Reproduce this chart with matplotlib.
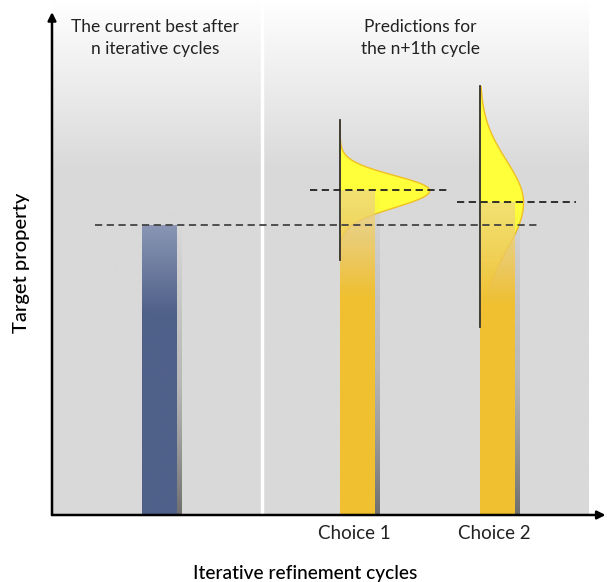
import numpy as np
import matplotlib
matplotlib.use('Agg')
import matplotlib.pyplot as plt
from matplotlib.colors import to_rgba

# ---- data ------------------------------------------------------------
categories = ['Current best', 'Choice 1', 'Choice 2']
values = [5.77, 6.46, 6.22]            # target property of each bar
tick_labels = ['', 'Choice 1', 'Choice 2']

pred_mean = [6.46, 6.22]               # predicted distributions (choice 1, 2)
pred_sd_up = [0.30, 0.84]
pred_sd_down = [0.34, 0.95]
pred_peak = [0.64, 0.31]
pred_lo = [5.07, 3.74]
pred_hi = [7.85, 8.53]

title_left = 'The current best after\nn iterative cycles'
title_right = 'Predictions for\nthe n+1th cycle'

# ---- layout ----------------------------------------------------------
W, H = 607, 582
xpos = [0.768, 2.18, 3.18]
bar_w = 0.25
ytop = 10.24
xright = 3.965
panel_right = 3.83

plt.rcParams['font.family'] = ['Lato', 'DejaVu Sans']

fig = plt.figure(figsize=(W / 100, H / 100), dpi=100, facecolor='white')
ax = fig.add_axes([52 / W, 67 / H, 555 / W, 515 / H])
ax.set_xlim(0, xright)
ax.set_ylim(0, ytop)
ax.axis('off')

# background panel: white at top fading into grey
n = 256
t = np.linspace(0, 1, n)[:, None]
grey = np.array(to_rgba('#d9d9d9'))
white = np.array(to_rgba('#ffffff'))
frac = np.clip(t / 0.33, 0, 1)
bg = white * (1 - frac[..., None]) + grey * frac[..., None]
ax.imshow(bg, extent=[0, panel_right, 0, ytop], aspect='auto', zorder=0,
          interpolation='bilinear', origin='upper')
ax.plot([1.5, 1.5], [0, ytop], color='white', lw=2.5, zorder=1)


def gradient(top, mid, bottom, split):
    k = np.linspace(0, 1, n)
    a = np.array(to_rgba(top[0], top[1]))
    b = np.array(to_rgba(mid[0], mid[1]))
    c = np.array(to_rgba(bottom[0], bottom[1]))
    out = np.zeros((n, 1, 4))
    for i, kk in enumerate(k):
        if kk < split:
            f = kk / split
            out[i, 0] = a * (1 - f) + b * f
        else:
            f = (kk - split) / (1 - split)
            out[i, 0] = b * (1 - f) + c * f
    return out


bars = ax.bar(xpos, values, width=bar_w, color='none', edgecolor='none', zorder=3)
for i, b in enumerate(bars):
    x0, w, h = b.get_x(), b.get_width(), b.get_height()
    if i == 0:
        g = gradient(('#8a96b4', 1), ('#4f6089', 1), ('#4f6089', 1), 0.31)
    else:
        g = gradient(('#ecd488', 0.7), ('#f0c032', 1), ('#f0c030', 1), 0.32)
    im = ax.imshow(g, extent=[x0, x0 + w, 0, h], aspect='auto', zorder=3,
                   interpolation='bilinear', origin='upper')
    im.set_clip_path(b)
    # thin shadow on the right side of each bar
    sh = gradient(('#808080', 0), ('#909090', 0.45), ('#6e6e6e', 1), 0.55)
    ax.imshow(sh, extent=[x0 + w, x0 + w + 0.032, 0, h], aspect='auto',
              zorder=2.5, interpolation='bilinear', origin='upper')

# predicted distributions for the two choices
for j in range(2):
    left = bars[j + 1].get_x()
    yy = np.linspace(pred_lo[j], pred_hi[j], 400)
    sd = np.where(yy > pred_mean[j], pred_sd_up[j], pred_sd_down[j])
    ww = pred_peak[j] * np.exp(-0.5 * ((yy - pred_mean[j]) / sd) ** 2)
    ax.fill_betweenx(yy, left, left + ww, facecolor='#ffff3a',
                     edgecolor='#f0c020', lw=1.0, zorder=2)
    ax.plot([left, left], [pred_lo[j], pred_hi[j]], color='#333333',
            lw=1.3, zorder=4)

# dashed reference lines
dash = dict(ls=(0, (4, 2.5)), lw=1.3, zorder=5)
ax.plot([xpos[0] - 0.46, xpos[2] + 0.30], [values[0]] * 2, color='#444444', **dash)
ax.plot([xpos[1] - 0.34, xpos[1] + 0.65], [values[1]] * 2, color='#222222', **dash)
ax.plot([xpos[2] - 0.29, xpos[2] + 0.56], [values[2]] * 2, color='#222222', **dash)

# axes with arrow heads
ax.annotate('', xy=(0, 10.0), xytext=(0, 0),
            arrowprops=dict(arrowstyle='-|>', color='black', lw=1.8,
                            mutation_scale=12, shrinkA=0, shrinkB=0),
            annotation_clip=False, zorder=6)
ax.annotate('', xy=(xright - 0.01, 0), xytext=(0, 0),
            arrowprops=dict(arrowstyle='-|>', color='black', lw=1.8,
                            mutation_scale=12, shrinkA=0, shrinkB=0),
            annotation_clip=False, zorder=6)

for x, lab in zip(xpos, tick_labels):
    ax.text(x - 0.02, -0.36, lab, ha='center', va='center', fontsize=13.5,
            color='#222222')

fig.text(305 / W, 1 - 574 / H, 'Iterative refinement cycles', ha='center',
         va='center', fontsize=13.8, color='black', fontweight='medium')
fig.text(22 / W, 1 - 263 / H, 'Target property', ha='center', va='center',
         rotation=90, fontsize=14.5, color='black', fontweight='medium')
fig.text(155 / W, 1 - 38 / H, title_left, ha='center', va='center',
         fontsize=12.5, color='#222222', linespacing=1.45)
fig.text(420 / W, 1 - 38 / H, title_right, ha='center', va='center',
         fontsize=12.5, color='#222222', linespacing=1.45)

fig.savefig('out.png', dpi=100, facecolor='white')
